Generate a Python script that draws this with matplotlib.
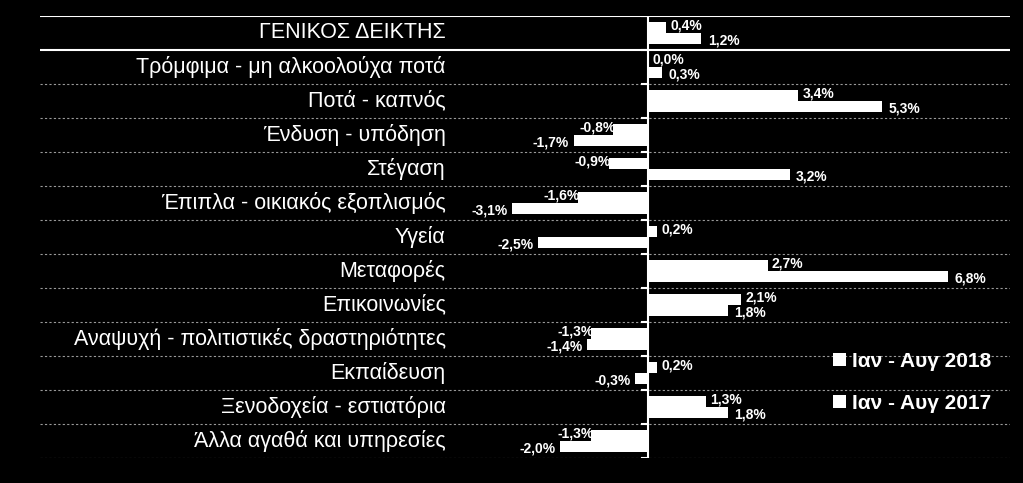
import numpy as np
import matplotlib.pyplot as plt
from matplotlib.patches import Patch

categories = ["ΓΕΝΙΚΟΣ ΔΕΙΚΤΗΣ", "Τρόμφιμα - μη αλκοολούχα ποτά", "Ποτά - καπνός",
              "Ένδυση - υπόδηση", "Στέγαση", "Έπιπλα - οικιακός εξοπλισμός", "Υγεία",
              "Μεταφορές", "Επικοινωνίες", "Αναψυχή - πολιτιστικές δραστηριότητες",
              "Εκπαίδευση", "Ξενοδοχεία - εστιατόρια", "Άλλα αγαθά και υπηρεσίες"]
val_2018 = [0.4, 0.0, 3.4, -0.8, -0.9, -1.6, 0.2, 2.7, 2.1, -1.3, 0.2, 1.3, -1.3]
val_2017 = [1.2, 0.3, 5.3, -1.7, 3.2, -3.1, -2.5, 6.8, 1.8, -1.4, -0.3, 1.8, -2.0]
series_names = ["Ιαν - Αυγ 2018", "Ιαν - Αυγ 2017"]

plt.rcParams['font.family'] = ['Liberation Sans', 'DejaVu Sans']

fig = plt.figure(figsize=(10.23, 4.83), dpi=100, facecolor='black')
ax = fig.add_axes([40 / 1023, 25 / 483, 970 / 1023, 442 / 483])
ax.set_facecolor('black')

n = len(categories)
y = np.arange(n)
h = 0.33
ax.barh(y - h / 2, val_2018, height=h, color='white', zorder=3)
ax.barh(y + h / 2, val_2017, height=h, color='white', zorder=3)

ax.set_xlim(-13.8, 8.2)
ax.set_ylim(n - 0.5, -0.5)
ax.axis('off')

def fmt(v):
    return ("%.1f%%" % v).replace('.', ',')

vs = 10
for i in range(n):
    a, b = val_2018[i], val_2017[i]
    if a >= 0:
        ax.text(a + 0.1, i - h / 2 - 0.05, fmt(a), color='white', fontsize=vs, fontweight='bold',
                ha='left', va='center', zorder=4)
    else:
        ax.text(a + 0.05, i - h / 2 - 0.05, fmt(a), color='white', fontsize=vs, fontweight='bold',
                ha='right', va='center', zorder=4)
    if b >= 0:
        ax.text(b + 0.15, i + h / 2 + 0.05, fmt(b), color='white', fontsize=vs, fontweight='bold',
                ha='left', va='center', zorder=4)
    else:
        ax.text(b - 0.1, i + h / 2 + 0.05, fmt(b), color='white', fontsize=vs, fontweight='bold',
                ha='right', va='center', zorder=4)
    ax.text(-4.6, i, categories[i], color='white', fontsize=15.5, ha='right', va='center', zorder=4)

# row separators
for k in range(n + 1):
    yy = k - 0.5
    if k <= 1:
        ax.axhline(yy, color='white', lw=1.5, zorder=2)
    else:
        ax.axhline(yy, color='#999999', lw=0.8, ls=(0, (2, 2)), zorder=2)
    ax.plot([-0.15, 0], [yy, yy], color='white', lw=1.5, zorder=4)
ax.plot([0, 0], [-0.5, n - 0.5], color='white', lw=1.5, zorder=4)

handles = [Patch(facecolor='white'), Patch(facecolor='white')]
leg = ax.legend(handles, series_names, loc='lower right', bbox_to_anchor=(1.0, 0.06),
                frameon=False, labelspacing=1.1, handlelength=0.6, handleheight=0.6,
                handletextpad=0.3, prop={'size': 15, 'weight': 'bold'})
for t in leg.get_texts():
    t.set_color('white')

fig.savefig('out.png', dpi=100, facecolor='black')
